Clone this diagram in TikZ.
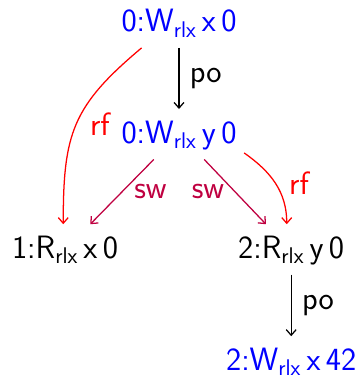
\documentclass[tikz,border=0pt]{standalone}
\usepackage{fontspec}
\usetikzlibrary{arrows.meta}
\begin{document}
\begin{tikzpicture}[line cap=butt,line join=miter,>={Straight Barb[length=4pt,width=7pt]},line width=0.9pt]
\tikzset{ev/.style={anchor=base,inner sep=5pt,text height=19pt,text depth=6pt},
font=\fontsize{23}{27}\selectfont\sffamily
}
\useasboundingbox (0,0) rectangle (9.025,9.525);
\node[ev,blue] (wx0) at (4.475,8.73) {0:W\textsubscript{rlx}\,x\,0};
\node[ev,blue] (wy0) at (4.475,5.94) {0:W\textsubscript{rlx}\,y\,0};
\node[ev] (rx1) at (1.625,3.06) {1:R\textsubscript{rlx}\,x\,0};
\node[ev] (ry2) at (7.28,3.06) {2:R\textsubscript{rlx}\,y\,0};
\node[ev,blue] (wx2) at (7.28,0.26) {2:W\textsubscript{rlx}\,x\,42};
\draw[->] (wx0) -- (wy0) node[pos=.5,right=4pt]{po};
\draw[->] (ry2) -- (wx2) node[pos=.5,right=4pt]{po};
\draw[->,purple] (wy0.-135) -- (rx1.45) node[midway,right=5pt]{sw};
\draw[->,purple] (wy0.-45) -- (ry2.135) node[midway,left=4pt]{sw};
\draw[->,red] (wx0.214) to[out=220,in=90,looseness=1.2] node[pos=.5,right=6pt]{rf} (rx1.94);
\draw[->,red] (wy0.-16) to[out=-35,in=90] node[pos=.5,right=6pt]{rf} (ry2.100);
\end{tikzpicture}
\end{document}
